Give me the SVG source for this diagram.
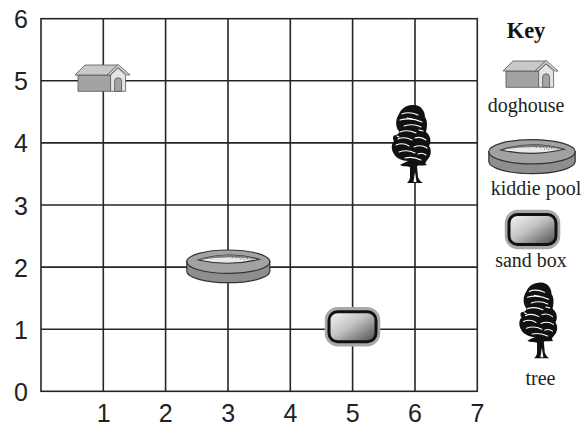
<svg xmlns="http://www.w3.org/2000/svg" width="587" height="426" viewBox="0 0 587 426">
  <style>
    .grid { stroke: #262626; stroke-width: 1.6; fill: none; }
    .axis { font-family: "Liberation Sans", Arial, sans-serif; font-size: 25px; fill: #222; text-anchor: middle; }
    .key { font-family: "Liberation Serif", "Times New Roman", serif; font-size: 20px; fill: #222; text-anchor: middle; }
    .keyhead { font-family: "Liberation Serif", "Times New Roman", serif; font-size: 22.5px; font-weight: bold; fill: #111; text-anchor: middle; }
    .ln { stroke: #555; stroke-width: 0.8; stroke-linejoin: round; }
    .scrib { fill: none; stroke: #fff; stroke-width: 1.1; stroke-linecap: round; }
  </style>
  <defs>
    <linearGradient id="sandFill" x1="0" y1="0" x2="1" y2="1">
      <stop offset="0" stop-color="#f7f7f7"/>
      <stop offset="0.45" stop-color="#c4c4c4"/>
      <stop offset="1" stop-color="#4a4a4a"/>
    </linearGradient>
    <filter id="soft" x="-30%" y="-30%" width="160%" height="160%">
      <feGaussianBlur stdDeviation="0.7"/>
    </filter>

    <!-- doghouse, origin at its centre -->
    <symbol id="doghouse" overflow="visible">
      <rect class="ln" x="-25.6" y="-5.3" width="32.6" height="16.3" fill="#a3a3a3"/>
      <polygon class="ln" points="-28.6,-5.3 -18.6,-15.3 14.5,-15.3 3.5,-5.3" fill="#c9c9c9"/>
      <polygon class="ln" points="7,-5.3 14.5,-12.3 22,-5.3 22,11 7,11" fill="#e4e4e4"/>
      <polygon class="ln" points="3.5,-5.3 14.5,-15.8 26.5,-5.3 23.5,-5.3 14.5,-12.8 6.5,-5.3" fill="#d6d6d6"/>
      <path class="ln" d="M11,11 V1 A3.5,3.5 0 0 1 18,1 V11 Z" fill="#a3a3a3"/>
    </symbol>

    <!-- kiddie pool, origin at its centre -->
    <symbol id="pool" overflow="visible">
      <path d="M-41.5,-4.6 L-41.5,4.9 A41.5,11.5 0 0 0 41.5,4.9 L41.5,-4.6 Z" fill="#8e8e8e" stroke="#333" stroke-width="1.2"/>
      <ellipse cx="0" cy="-4.6" rx="41.5" ry="11.7" fill="#a2a2a2" stroke="#333" stroke-width="1.2"/>
      <path d="M-30,-6.3 Q0,-16 31,-7 Q0,0.6 -30,-6.3 Z" fill="#e9e9e9" stroke="#333" stroke-width="1.1"/>
      <path d="M-30,-6.3 Q0,-16 31,-7 Q0,-11.5 -30,-6.3 Z" fill="#7a7a7a"/>
      <g fill="#555">
        <circle cx="4" cy="-9" r="0.6"/><circle cx="8" cy="-8.6" r="0.6"/><circle cx="11" cy="-9.3" r="0.6"/>
        <circle cx="14" cy="-8.2" r="0.6"/><circle cx="17" cy="-9" r="0.6"/><circle cx="19" cy="-7.6" r="0.6"/>
        <circle cx="22" cy="-8.4" r="0.6"/><circle cx="24" cy="-7.2" r="0.6"/><circle cx="26" cy="-8" r="0.6"/>
        <circle cx="12" cy="-7.2" r="0.5"/><circle cx="16" cy="-6.8" r="0.5"/><circle cx="21" cy="-6.4" r="0.5"/>
      </g>
    </symbol>

    <!-- sand box, origin at its centre -->
    <symbol id="sandbox" overflow="visible">
      <rect x="-25.5" y="-17.5" width="51" height="35" rx="11" fill="none" stroke="#a8a8a8" stroke-width="4.5" filter="url(#soft)"/>
      <rect x="-23.5" y="-15" width="47" height="30" rx="8.5" fill="url(#sandFill)" stroke="#111" stroke-width="3"/>
    </symbol>

    <!-- tree, origin at the middle of the canopy -->
    <symbol id="tree" overflow="visible">
      <path fill="#111" d="M1,-39 C9,-40 14,-34 14,-27 C17,-23 16,-16 15,-12 C19,-9 21,-3 18,2 C21,6 20,12 17,15 C15,18 13,19 16,21 C11,22 8,21 6,22 L7,33 C8,36 10,38 12,39 L-4,39 C-2,37 -1,35 -1,33 L-1,23 C-4,22 -8,23 -11,21 C-8,19 -5,18 -3,17 C-9,17 -15,14 -17,10 C-20,6 -20,0 -17,-3 C-19,-6 -18,-9 -15,-9 C-12,-10 -11,-12 -13,-14 C-16,-19 -15,-26 -12,-30 C-10,-35 -5,-39 1,-39 Z"/>
      <path fill="#fff" d="M2.5,38 L4,28 L5.5,38 Z"/>
      <path class="scrib" d="M-9,-30 Q-2,-33 7,-29 M-11,-24 Q0,-27 11,-22 M-7,-18 Q2,-21 10,-17 M-11,-12 Q-4,-15 5,-11 M-13,-5 Q-7,-8 1,-4 M4,-6 Q10,-8 15,-4 M-15,1 Q-8,-2 -2,2 M3,3 Q10,0 16,4 M-12,8 Q-4,5 4,9 M7,10 Q11,8 15,11 M-6,14 Q2,12 10,16 M-4,-26 L2,-25 M-14,-8 L-12,-7 M8,-14 L12,-13"/>
    </symbol>
  </defs>

  <!-- coordinate grid -->
  <g id="grid">
    <rect class="grid" x="41" y="18.7" width="436.3" height="372.6"/>
    <path class="grid" d="M103.3,18.7 V391.3 M165.6,18.7 V391.3 M228,18.7 V391.3 M290.3,18.7 V391.3 M352.6,18.7 V391.3 M415,18.7 V391.3 M41,80.8 H477.3 M41,142.9 H477.3 M41,205 H477.3 M41,267.1 H477.3 M41,329.2 H477.3"/>
  </g>

  <g id="y-axis-labels" class="axis">
    <text x="21" y="28.2">6</text>
    <text x="21" y="90.3">5</text>
    <text x="21" y="152.4">4</text>
    <text x="21" y="214.5">3</text>
    <text x="21" y="276.6">2</text>
    <text x="21" y="338.7">1</text>
    <text x="21" y="400.8">0</text>
  </g>
  <g id="x-axis-labels" class="axis">
    <text x="103.8" y="421.5">1</text>
    <text x="165.8" y="421.5">2</text>
    <text x="228.2" y="421.5">3</text>
    <text x="290.5" y="421.5">4</text>
    <text x="352.8" y="421.5">5</text>
    <text x="415" y="421.5">6</text>
    <text x="477.5" y="421.5">7</text>
  </g>

  <!-- items placed on the grid -->
  <g id="doghouse-1"><use href="#doghouse" transform="translate(103.6,80.3)"/></g>
  <g id="tree-1"><use href="#tree" transform="translate(411,144)"/></g>
  <g id="pool-1"><use href="#pool" transform="translate(228.3,266.3)"/></g>
  <g id="sandbox-1"><use href="#sandbox" transform="translate(352.5,326.7)"/></g>

  <!-- key -->
  <g id="key">
    <text class="keyhead" x="526" y="38">Key</text>
    <g id="key-doghouse">
      <use href="#doghouse" transform="translate(531.6,76.3)"/>
      <text class="key" x="526" y="111.5">doghouse</text>
    </g>
    <g id="key-pool">
      <use href="#pool" transform="translate(532,156.5) scale(1.04)"/>
      <text class="key" x="536" y="195">kiddie pool</text>
    </g>
    <g id="key-sandbox">
      <use href="#sandbox" transform="translate(532.5,229.5)"/>
      <text class="key" x="531" y="267">sand box</text>
    </g>
    <g id="key-tree">
      <use href="#tree" transform="translate(538,320.5) scale(0.97)"/>
      <text class="key" x="540.5" y="385">tree</text>
    </g>
  </g>
</svg>
